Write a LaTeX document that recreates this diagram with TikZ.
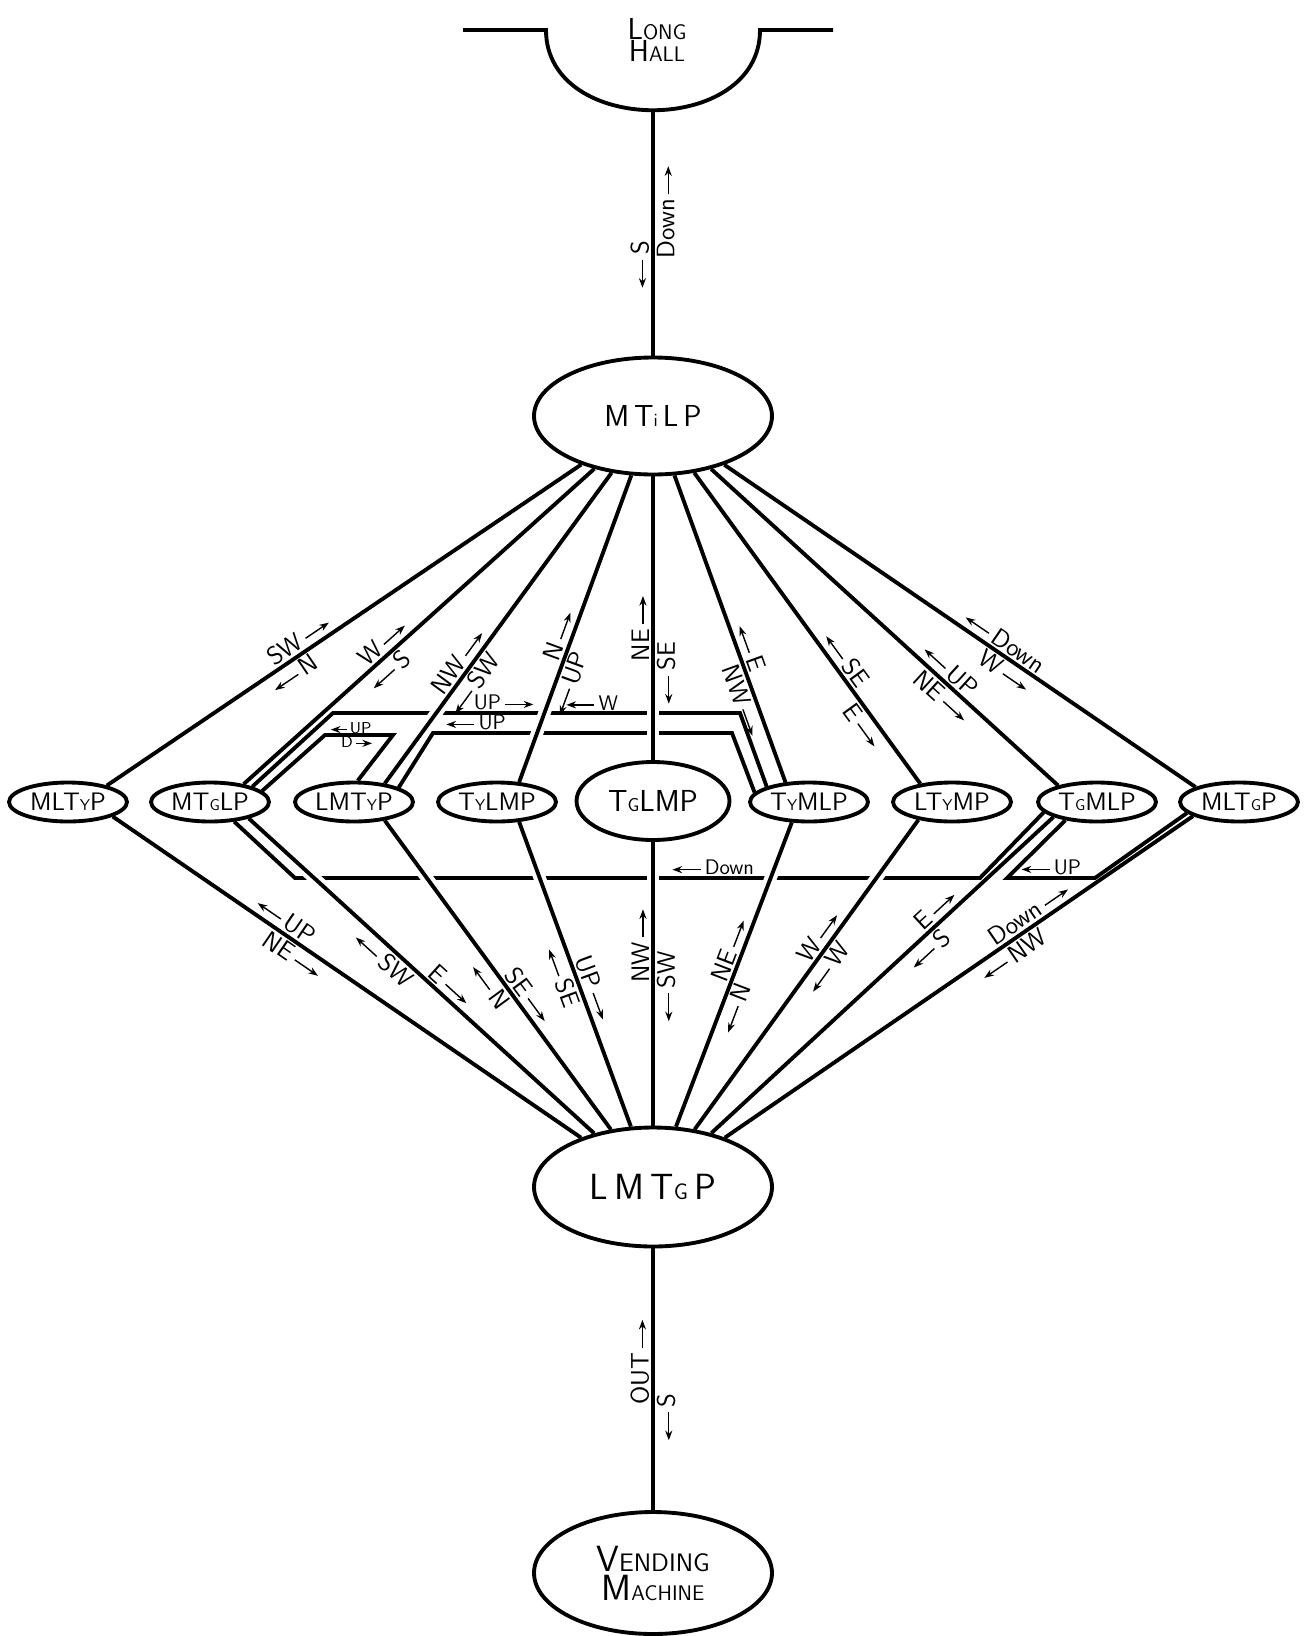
\documentclass[tikz,border=0pt]{standalone}
\usepackage{graphicx}
\usetikzlibrary{shapes.geometric,arrows.meta}

\newcommand{\arrR}[1][16pt]{\tikz[baseline=-0.55ex]\draw[-{Stealth[length=5.5pt,width=4pt]},line width=0.8pt] (0pt,0pt) -- (#1,0pt);}
\newcommand{\arrL}[1][16pt]{\tikz[baseline=-0.55ex]\draw[{Stealth[length=5.5pt,width=4pt]}-,line width=0.8pt] (0pt,0pt) -- (#1,0pt);}
\newcommand{\lowcap}[1]{\scalebox{0.62}{#1}}

\begin{document}
\begin{tikzpicture}[x=0.02cm, y=-0.02cm,
    room/.style={draw, ellipse, line width=2.2pt, inner sep=0pt, font=\sffamily},
    small room/.style={room, minimum width=2.36cm, minimum height=0.78cm, font=\sffamily\Large},
    link/.style={line width=2.2pt},
    gap/.style={white, line width=7pt},
    lab/.style={sloped, font=\sffamily\Large, inner sep=2pt},
    path lab/.style={lab, font=\sffamily\large, inner sep=1.5pt},
    small lab/.style={lab, font=\sffamily\small, inner sep=0.5pt}]
    \useasboundingbox (0,0) rectangle (1311,1636);

    % 走廊
    \draw[link] (463,30) -- (546,30) .. controls (546,137) and (760,137) .. (760,30) -- (833,30);
    \node[font=\sffamily, align=center] (hallname) at (657,40) {{\LARGE L}{\large ONG}\\[-1pt]{\LARGE H}{\large ALL}};
    \coordinate (hall) at (653,110);

    % 房间
    \node[room, minimum width=4.76cm, minimum height=2.34cm, font=\sffamily\LARGE] (mtilp) at (653,416) {M\,T\lowcap{i}\,L\,P};
    \node[small room] (mltyp) at (68,802) {MLT\lowcap{Y}P};
    \node[small room] (mtglp) at (210,802) {MT\lowcap{G}LP};
    \node[small room] (lmtyp) at (354,802) {LMT\lowcap{Y}P};
    \node[small room] (tylmp) at (497,802) {T\lowcap{Y}LMP};
    \node[room, minimum width=3.06cm, minimum height=1.56cm, font=\sffamily\LARGE] (tglmp) at (653,801) {T\lowcap{G}LMP};
    \node[small room] (tymlp) at (809,802) {T\lowcap{Y}MLP};
    \node[small room] (ltymp) at (952,802) {LT\lowcap{Y}MP};
    \node[small room] (tgmlp) at (1097,802) {T\lowcap{G}MLP};
    \node[small room] (mltgp) at (1239,802) {MLT\lowcap{G}P};
    \node[room, minimum width=4.76cm, minimum height=2.38cm, font=\sffamily\huge] (lmtgp) at (653,1187) {L\,M\,T\lowcap{G}\,P};
    \node[room, minimum width=4.76cm, minimum height=2.44cm, align=center] (vend) at (653,1573)
        {{\huge V}{\Large ENDING}\\[1pt]{\huge M}{\large ACHINE}};

    % 楼梯
    \draw[link] (mtglp.20) -- (333,713) -- node[path lab,pos=.42,above]{UP\,\arrR} node[path lab,pos=.636,above]{\arrL\,W} (740,713) -- (tymlp.160);
    \draw[link] (lmtyp.18) -- (433,733) -- node[path lab,pos=.143,above]{\arrL\,UP} (732,733) -- (tymlp.170);
    \draw[link] (mtglp.12) -- (325,735) -- node[small lab,pos=.38,above]{\arrL[9pt]\,UP} node[small lab,pos=.47,below]{D\,\arrR[9pt]} (393,735) -- (lmtyp.80);
    \draw[link] (mtglp.321) -- (295,878) -- node[path lab,pos=.61,above]{\arrL\,Down} (980,878) -- (tgmlp.191);
    \draw[link] (tgmlp.210) -- (1007,878) -- node[path lab,pos=.5,above]{\arrL\,UP} (1095,878) -- (mltgp.192);

    % 交叉处断开
    \begin{scope}
        \clip (0,705) rectangle (1311,721) (0,725) rectangle (1311,742) (0,870) rectangle (1311,886);
        \foreach \a/\b in {mtilp/lmtyp.31, mtilp/tylmp.42, tglmp/mtilp, mtglp.337/lmtgp, lmtyp.329/lmtgp,
                           tylmp.318/lmtgp, lmtgp/tglmp, tymlp.230/lmtgp, ltymp.208/lmtgp}
            \draw[gap] (\a) -- (\b);
    \end{scope}

    % 上方连线
    \draw[link] (mtilp) -- node[lab,pos=.37,above]{\arrL\,S} node[lab,pos=.585,below]{Down\,\arrR} (hall);
    \draw[link] (mtilp) -- node[lab,pos=.58,above]{SW\,\arrR} node[lab,pos=.62,below]{\arrL\,N} (mltyp.23);
    \draw[link] (mtilp) -- node[lab,pos=.58,above]{W\,\arrR} node[lab,pos=.61,below]{\arrL\,S} (mtglp.28);
    \draw[link] (mtilp) -- node[lab,pos=.63,above]{NW\,\arrR} node[lab,pos=.655,below]{\arrL\,SW} (lmtyp.31);
    \draw[link] (mtilp) -- node[lab,pos=.535,above]{N\,\arrR} node[lab,pos=.665,below]{\arrL\,UP} (tylmp.42);
    \draw[link] (tglmp) -- node[lab,pos=.465,above]{NE\,\arrR} node[lab,pos=.306,below]{\arrL\,SE} (mtilp);
    \draw[link] (mtilp) -- node[lab,pos=.575,above]{\arrL\,E} node[lab,pos=.72,below]{NW\,\arrR} (tymlp.140);
    \draw[link] (mtilp) -- node[lab,pos=.625,above]{\arrL\,SE} node[lab,pos=.79,below]{E\,\arrR} (ltymp.150);
    \draw[link] (mtilp) -- node[lab,pos=.664,above]{\arrL\,UP} node[lab,pos=.69,below]{NE\,\arrR} (tgmlp.157);
    \draw[link] (mtilp) -- node[lab,pos=.58,above]{\arrL\,Down} node[lab,pos=.61,below]{W\,\arrR} (mltgp.161);

    % 下方连线
    \draw[link] (mltyp.342) -- node[lab,pos=.354,above]{\arrL\,UP} node[lab,pos=.40,below]{NE\,\arrR} (lmtgp);
    \draw[link] (mtglp.337) -- node[lab,pos=.56,above]{E\,\arrR} node[lab,pos=.415,below]{\arrL\,SW} (lmtgp);
    \draw[link] (lmtyp.329) -- node[lab,pos=.59,above]{SE\,\arrR} node[lab,pos=.51,below]{\arrL\,N} (lmtgp);
    \draw[link] (tylmp.318) -- node[lab,pos=.56,above]{UP\,\arrR} node[lab,pos=.495,below]{\arrL\,SE} (lmtgp);
    \draw[link] (lmtgp) -- node[lab,pos=.634,above]{NW\,\arrR} node[lab,pos=.49,below]{\arrL\,SW} (tglmp);
    \draw[link] (tymlp.230) -- node[lab,pos=.433,above]{NE\,\arrR} node[lab,pos=.596,below]{\arrL\,N} (lmtgp);
    \draw[link] (ltymp.208) -- node[lab,pos=.40,above]{W\,\arrR} node[lab,pos=.453,below]{\arrL\,W} (lmtgp);
    \draw[link] (tgmlp.199) -- node[lab,pos=.32,above]{E\,\arrR} node[lab,pos=.39,below]{\arrL\,S} (lmtgp);
    \draw[link] (mltgp.197) -- node[lab,pos=.335,above]{Down\,\arrR} node[lab,pos=.40,below]{\arrL\,NW} (lmtgp);
    \draw[link] (vend) -- node[lab,pos=.566,above]{OUT\,\arrR} node[lab,pos=.355,below]{\arrL\,S} (lmtgp);
\end{tikzpicture}
\end{document}
